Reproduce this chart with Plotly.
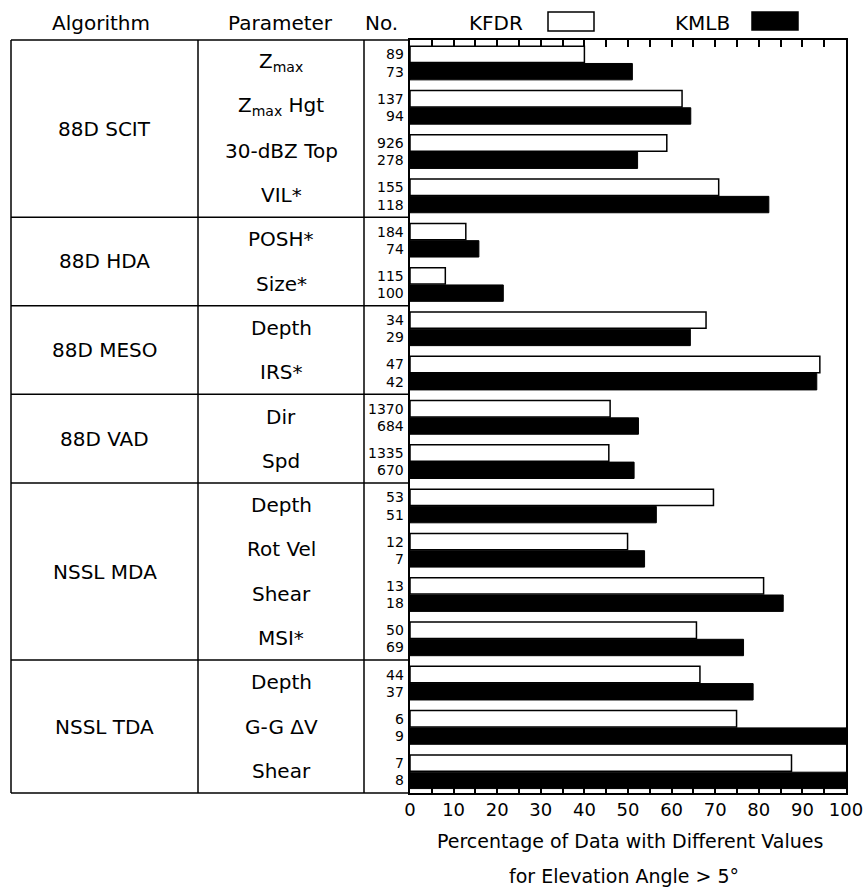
import plotly.graph_objects as go

# ---- data -------------------------------------------------------------
algorithms = ["88D SCIT", "88D HDA", "88D MESO", "88D VAD", "NSSL MDA", "NSSL TDA"]
group_sizes = [4, 2, 2, 2, 4, 3]
parameters = [
    "Z<sub>max</sub>", "Z<sub>max</sub> Hgt", "30-dBZ Top", "VIL*",
    "POSH*", "Size*",
    "Depth", "IRS*",
    "Dir", "Spd",
    "Depth", "Rot Vel", "Shear", "MSI*",
    "Depth", "G-G ΔV", "Shear",
]
kfdr_n = [89, 137, 926, 155, 184, 115, 34, 47, 1370, 1335, 53, 12, 13, 50, 44, 6, 7]
kmlb_n = [73, 94, 278, 118, 74, 100, 29, 42, 684, 670, 51, 7, 18, 69, 37, 9, 8]
kfdr_pct = [40.0, 62.4, 58.9, 70.8, 12.8, 8.1, 67.9, 94.0, 45.9, 45.6,
            69.6, 49.9, 81.1, 65.7, 66.5, 74.9, 87.5]
kmlb_pct = [51.0, 64.4, 52.2, 82.3, 15.8, 21.4, 64.3, 93.3, 52.4, 51.4,
            56.5, 53.8, 85.6, 76.5, 78.7, 100.0, 100.0]
x_major = list(range(0, 101, 10))

# ---- layout helpers (pixel -> paper) ----------------------------------
W, H = 865, 890
def px(x):
    return x / W
def py(y):
    return 1 - y / H

FONT = "DejaVu Sans"
LW = 1.5
rows = list(range(len(parameters)))

X0, X1 = 410, 846      # plot area, pixels
Y0, Y1 = 40, 793
TBL_L, COL1, COL2 = 11, 198, 364

BAR_W = 0.37
OFF_A, OFF_B = -0.36, 0.03

fig = go.Figure()
fig.add_trace(go.Bar(
    name="KFDR", y=rows, x=kfdr_pct, orientation="h",
    width=BAR_W, offset=OFF_A,
    marker=dict(color="white", line=dict(color="black", width=LW)),
    showlegend=False,
))
fig.add_trace(go.Bar(
    name="KMLB", y=rows, x=kmlb_pct, orientation="h",
    width=BAR_W, offset=OFF_B,
    marker=dict(color="black", line=dict(color="black", width=1)),
    showlegend=False,
))

annotations = []
shapes = []

# column headers and legend
hdr = dict(xref="paper", yref="paper", showarrow=False,
           font=dict(family=FONT, size=20, color="black"), yanchor="middle")
annotations += [
    dict(text="Algorithm", x=px(101), y=py(23), xanchor="center", **hdr),
    dict(text="Parameter", x=px(280), y=py(23), xanchor="center", **hdr),
    dict(text="No.", x=px(381), y=py(23), xanchor="center", **hdr),
    dict(text="KFDR", x=px(496), y=py(23), xanchor="center", **hdr),
    dict(text="KMLB", x=px(702), y=py(23), xanchor="center", **hdr),
]
shapes += [
    dict(type="rect", xref="paper", yref="paper", x0=px(548), x1=px(594),
         y0=py(31), y1=py(12), fillcolor="white", line=dict(color="black", width=LW)),
    dict(type="rect", xref="paper", yref="paper", x0=px(752), x1=px(798),
         y0=py(30), y1=py(12), fillcolor="black", line=dict(color="black", width=LW)),
]

# parameter names and sample counts
for i, (p, a, b) in enumerate(zip(parameters, kfdr_n, kmlb_n)):
    annotations.append(dict(text=p, x=px((COL1 + COL2) / 2), y=i, xref="paper", yref="y",
                            xanchor="center", yanchor="middle", showarrow=False,
                            font=dict(family=FONT, size=20, color="black")))
    annotations.append(dict(text=str(a), x=px(406), y=i + OFF_A + BAR_W / 2,
                            xref="paper", yref="y", xanchor="right", yanchor="middle",
                            showarrow=False, font=dict(family=FONT, size=14, color="black")))
    annotations.append(dict(text=str(b), x=px(406), y=i + OFF_B + BAR_W / 2,
                            xref="paper", yref="y", xanchor="right", yanchor="middle",
                            showarrow=False, font=dict(family=FONT, size=14, color="black")))

# algorithm groups and separators
start = 0
for name, n in zip(algorithms, group_sizes):
    annotations.append(dict(text=name, x=px((TBL_L + COL1) / 2), y=start + (n - 1) / 2,
                            xref="paper", yref="y", xanchor="center", yanchor="middle",
                            showarrow=False, font=dict(family=FONT, size=20, color="black")))
    if start > 0:
        shapes.append(dict(type="line", xref="paper", yref="y", x0=px(TBL_L), x1=px(X0),
                           y0=start - 0.5, y1=start - 0.5, line=dict(color="black", width=LW)))
    start += n

# table frame
for xv in (TBL_L, COL1, COL2):
    shapes.append(dict(type="line", xref="paper", yref="paper", x0=px(xv), x1=px(xv),
                       y0=py(Y0), y1=py(Y1), line=dict(color="black", width=LW)))
for yv in (Y0, Y1):
    shapes.append(dict(type="line", xref="paper", yref="paper", x0=px(TBL_L), x1=px(X0),
                       y0=py(yv), y1=py(yv), line=dict(color="black", width=LW)))

# axis title
annotations.append(dict(text="Percentage of Data with Different Values", x=px(630), y=py(841),
                        xref="paper", yref="paper", xanchor="center", yanchor="middle",
                        showarrow=False, font=dict(family=FONT, size=19, color="black")))
annotations.append(dict(text="for Elevation Angle > 5°", x=px(624), y=py(876),
                        xref="paper", yref="paper", xanchor="center", yanchor="middle",
                        showarrow=False, font=dict(family=FONT, size=19, color="black")))

fig.update_layout(
    template="none",
    width=W, height=H,
    margin=dict(l=0, r=0, t=0, b=0),
    paper_bgcolor="white", plot_bgcolor="white",
    barmode="overlay",
    annotations=annotations,
    shapes=shapes,
    xaxis=dict(
        domain=[px(X0), px(X1)], range=[0, 100],
        tickvals=x_major,
        ticks="inside", ticklen=7, tickwidth=LW, tickcolor="black",
        minor=dict(dtick=5, ticks="inside", ticklen=7, tickwidth=LW, tickcolor="black",
                   showgrid=False),
        showline=True, linecolor="black", linewidth=LW, mirror="ticks",
        showgrid=False, zeroline=False, automargin=False,
        tickfont=dict(family=FONT, size=18, color="black"),
    ),
    yaxis=dict(
        domain=[py(Y1), py(Y0)], range=[len(parameters) - 0.5, -0.5],
        showticklabels=False, ticks="", showgrid=False, zeroline=False,
        showline=True, linecolor="black", linewidth=LW, mirror=True, automargin=False,
    ),
)

fig.write_html("out.html")
